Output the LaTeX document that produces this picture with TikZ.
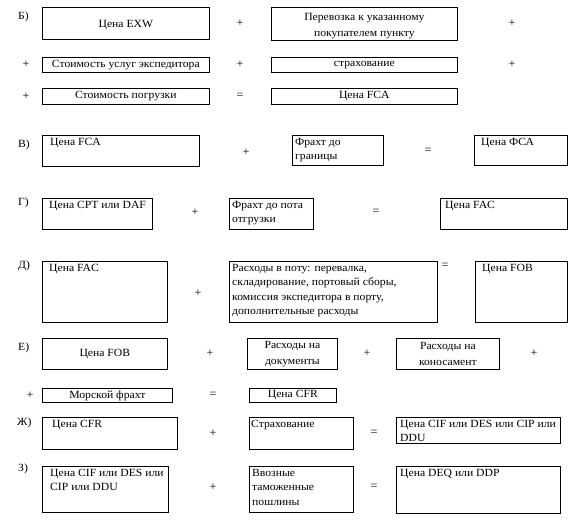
\documentclass[tikz,border=0pt]{standalone}
\usepackage{fontspec}
\setmainfont{Liberation Serif}[FakeStretch=1.06]
\begin{document}
\begin{tikzpicture}[x=1pt,y=-1pt,
  box/.style={draw,line width=0.7pt,rectangle,inner sep=0pt,anchor=north west,
    align=center,font=\fontsize{11}{15.5}\selectfont},
  ctr/.style={inner sep=0pt,align=center,font=\fontsize{11}{15.5}\selectfont},
  txt/.style={inner sep=0pt,anchor=north west,align=left,font=\fontsize{11}{14.5}\selectfont},
  op/.style={inner sep=0pt,font=\fontsize{11.5}{12}\selectfont},
  lab/.style={inner sep=0pt,anchor=west,font=\fontsize{11}{12}\selectfont}]
\useasboundingbox (0,0) rectangle (588,525);
% Row B
\node[lab] (lB) at (18,17) {Б)};
\node[box,minimum width=167,minimum height=32] (b1) at (42,7) {};
\node[ctr] (b1t) at ([shift={(0,2)}]b1.center) {Цена EXW};
\node[op] (p1) at (240,23) {+};
\node[box,minimum width=186,minimum height=33] (b2) at (271,7) {};
\node[ctr] (b2t) at ([shift={(0,2)}]b2.center) {Перевозка к указанному\\покупателем пункту};
\node[op] (p2) at (512,23) {+};
\node[op] (p3) at (26,64) {+};
\node[box,minimum width=167,minimum height=15] (b3) at (42,57) {Стоимость услуг экспедитора};
\node[op] (p4) at (240,64) {+};
\node[box,minimum width=186,minimum height=15] (b4) at (271,57) {страхование};
\node[op] (p5) at (512,64) {+};
\node[op] (p6) at (26,96) {+};
\node[box,minimum width=167,minimum height=16] (b5) at (42,88) {Стоимость погрузки};
\node[op] (e1) at (240,96) {=};
\node[box,minimum width=186,minimum height=16] (b6) at (271,88) {Цена FCA};
% Row V
\node[lab] (lV) at (18,145) {В)};
\node[box,minimum width=157,minimum height=31] (v1) at (42,135) {};
\node[txt] (v1t) at ([shift={(8,3)}]v1.north west) {Цена FCA};
\node[op] (p7) at (246,152) {+};
\node[box,minimum width=91,minimum height=30] (v2) at (292,135) {};
\node[txt] (v2t) at ([shift={(3,3)}]v2.north west) {Фрахт до\\границы};
\node[op] (e2) at (428,151) {=};
\node[box,minimum width=93,minimum height=30] (v3) at (474,135) {};
\node[txt] (v3t) at ([shift={(7,3)}]v3.north west) {Цена ФСА};
% Row G
\node[lab] (lG) at (18,203) {Г)};
\node[box,minimum width=110,minimum height=31] (g1) at (42,198) {};
\node[txt] (g1t) at ([shift={(7,3)}]g1.north west) {Цена CPT или DAF};
\node[op] (p8) at (195,212) {+};
\node[box,minimum width=84,minimum height=31] (g2) at (229,198) {};
\node[txt] (g2t) at ([shift={(3,3)}]g2.north west) {Фрахт до пота\\отгрузки};
\node[op] (e3) at (376,212) {=};
\node[box,minimum width=127,minimum height=31] (g3) at (440,198) {};
\node[txt] (g3t) at ([shift={(5,3)}]g3.north west) {Цена FAC};
% Row D
\node[lab] (lD) at (18,266) {Д)};
\node[box,minimum width=125,minimum height=61] (d1) at (42,261) {};
\node[txt] (d1t) at ([shift={(7,3)}]d1.north west) {Цена FAC};
\node[op] (p9) at (198,293) {+};
\node[box,minimum width=208,minimum height=61] (d2) at (229,261) {};
\node[txt] (d2t) at ([shift={(3,3)}]d2.north west) {Расходы в поту: перевалка,\\складирование, портовый сборы,\\комиссия экспедитора в порту,\\дополнительные расходы};
\node[op] (e4) at (445,266) {=};
\node[box,minimum width=92,minimum height=61] (d3) at (475,261) {};
\node[txt] (d3t) at ([shift={(7,3)}]d3.north west) {Цена FOB};
% Row E
\node[lab] (lE) at (18,348) {Е)};
\node[box,minimum width=125,minimum height=31] (f1) at (42,338) {Цена FOB};
\node[op] (p10) at (210,353) {+};
\node[box,minimum width=90,minimum height=31] (f2) at (247,338) {Расходы на\\документы};
\node[op] (p11) at (367,353) {+};
\node[box,minimum width=103,minimum height=31] (f3) at (396,338) {Расходы на\\коносамент};
\node[op] (p12) at (534,353) {+};
\node[op] (p13) at (30,395) {+};
\node[box,minimum width=130,minimum height=14] (f4) at (42,388) {Морской фрахт};
\node[op] (e5) at (213,395) {=};
\node[box,minimum width=87,minimum height=14] (f5) at (249,388) {Цена CFR};
% Row Zh
\node[lab] (lZ) at (17,423) {Ж)};
\node[box,minimum width=135,minimum height=32] (z1) at (42,417) {};
\node[txt] (z1t) at ([shift={(10,3)}]z1.north west) {Цена CFR};
\node[op] (p14) at (213,433) {+};
\node[box,minimum width=104,minimum height=32] (z2) at (249,417) {};
\node[txt] (z2t) at ([shift={(2,3)}]z2.north west) {Страхование};
\node[op] (e6) at (374,433) {=};
\node[box,minimum width=164,minimum height=26] (z3) at (396,417) {};
\node[txt] (z3t) at ([shift={(4,3)}]z3.north west) {Цена CIF или DES или CIP или\\DDU};
% Row Z
\node[lab] (lZZ) at (18,469) {З)};
\node[box,minimum width=126,minimum height=46] (h1) at (42,466) {};
\node[txt] (h1t) at ([shift={(8,3)}]h1.north west) {Цена CIF или DES или\\CIP или DDU};
\node[op] (p15) at (213,487) {+};
\node[box,minimum width=104,minimum height=46] (h2) at (249,466) {};
\node[txt] (h2t) at ([shift={(3,3)}]h2.north west) {Ввозные\\таможенные\\пошлины};
\node[op] (e7) at (374,487) {=};
\node[box,minimum width=164,minimum height=47] (h3) at (396,466) {};
\node[txt] (h3t) at ([shift={(4,3)}]h3.north west) {Цена DEQ или DDP};
\end{tikzpicture}
\end{document}
